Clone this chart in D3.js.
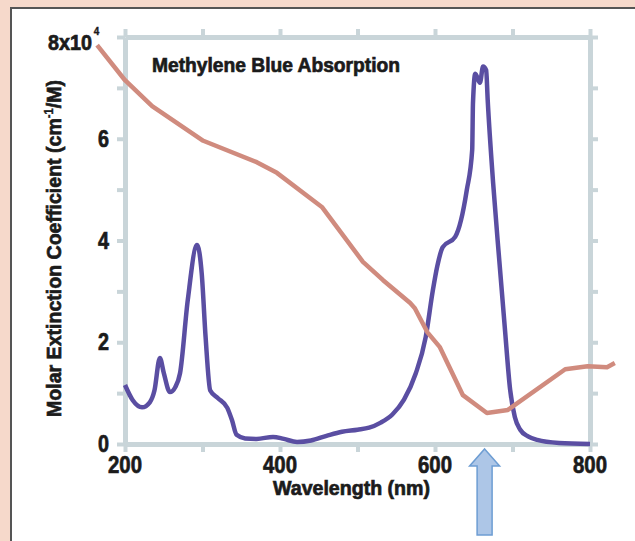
<!DOCTYPE html>
<html>
<head>
<meta charset="utf-8">
<script src="https://cdn.jsdelivr.net/npm/d3@7"></script>
<style>
  html, body { margin: 0; padding: 0; background: #f6d9cb; }
  svg { display: block; }
  .lbl { font-family: "Liberation Sans", Arial, sans-serif; font-weight: bold; fill: #1b1b1b; stroke: #1b1b1b; stroke-width: 0.7; }
</style>
</head>
<body>
<div id="chart"></div>
<script>
// wavelength (nm) and molar extinction coefficient (x10^4 cm^-1/M)
const mbWavelength = [200, 210, 222, 232, 238, 245, 250, 258, 265, 271, 281, 293, 299, 304, 310, 320, 332, 338, 344, 355, 370, 391, 405, 422, 440, 460, 480, 500, 515, 530, 545, 560, 575, 588, 597, 603, 610, 626, 641, 648, 649, 652, 658, 662, 666, 668, 675, 683, 690, 697, 703, 710, 720, 732, 760, 800];
const mbCoeff      = [1.16, 0.86, 0.72, 0.82, 1.05, 1.69, 1.40, 1.02, 1.12, 1.39, 2.83, 3.91, 3.35, 2.10, 1.05, 0.90, 0.71, 0.47, 0.18, 0.11, 0.10, 0.14, 0.10, 0.04, 0.07, 0.16, 0.24, 0.28, 0.32, 0.42, 0.58, 0.87, 1.38, 2.10, 3.00, 3.50, 3.87, 4.07, 4.99, 5.78, 6.70, 7.28, 7.10, 7.42, 7.35, 6.76, 5.13, 3.60, 2.30, 1.06, 0.53, 0.28, 0.15, 0.08, 0.02, 0.0];

const bgWavelength = [164, 200, 235, 301, 370, 396, 454, 507, 533, 568, 574, 590, 606, 636, 667, 694, 768, 797, 822, 832];
const bgCoeff      = [7.84, 7.15, 6.64, 5.96, 5.54, 5.33, 4.66, 3.58, 3.22, 2.77, 2.67, 2.20, 1.91, 0.96, 0.61, 0.67, 1.47, 1.53, 1.51, 1.59];

const xTicks = [200, 300, 400, 500, 600, 700, 800];
const xTickLabels = [200, 400, 600, 800];
const yTicks = [0, 1, 2, 3, 4, 5, 6, 7, 8];
const yTickLabels = [0, 2, 4, 6];
const arrowWavelength = 664;

const W = 635, H = 541;
const axisColor = "#c9d5d9";

const svg = d3.select("#chart").append("svg")
    .attr("width", W)
    .attr("height", H);

// white panel
svg.append("rect")
    .attr("x", 11).attr("y", 8)
    .attr("width", W).attr("height", H)
    .attr("fill", "#fff")
    .attr("stroke", "#555")
    .attr("stroke-width", 2);

let x = d3.scaleLinear().domain([200, 800]).range([125, 590]);
let y = d3.scaleLinear().domain([0, 8]).range([444, 37]);

function styleAxis(g) {
    g.select(".domain").attr("stroke", axisColor).attr("stroke-width", 5);
    g.selectAll(".tick line").attr("stroke", axisColor).attr("stroke-width", 4);
    g.selectAll(".tick text").remove();
}

svg.append("g").attr("transform", "translate(0," + y(0) + ")")
    .call(d3.axisBottom(x).tickValues(xTicks).tickSize(8).tickSizeOuter(0))
    .call(styleAxis);
svg.append("g").attr("transform", "translate(0," + y(8) + ")")
    .call(d3.axisTop(x).tickValues(xTicks).tickSize(8).tickSizeOuter(0))
    .call(styleAxis);
svg.append("g").attr("transform", "translate(" + x(200) + ",0)")
    .call(d3.axisLeft(y).tickValues(yTicks).tickSize(8).tickSizeOuter(0))
    .call(styleAxis);
svg.append("g").attr("transform", "translate(" + x(800) + ",0)")
    .call(d3.axisRight(y).tickValues(yTicks).tickSize(8).tickSizeOuter(0))
    .call(styleAxis);

// tick labels
svg.selectAll(".xlab")
    .data(xTickLabels)
    .enter().append("text")
    .attr("class", "lbl xlab")
    .attr("x", d => x(d))
    .attr("y", y(0) + 29)
    .attr("text-anchor", "middle")
    .attr("font-size", 24)
    .attr("textLength", 34)
    .attr("lengthAdjust", "spacingAndGlyphs")
    .text(d => d);

svg.selectAll(".ylab")
    .data(yTickLabels)
    .enter().append("text")
    .attr("class", "lbl ylab")
    .attr("x", x(200) - 16)
    .attr("y", d => y(d) + 8)
    .attr("text-anchor", "end")
    .attr("font-size", 23)
    .attr("textLength", 11)
    .attr("lengthAdjust", "spacingAndGlyphs")
    .text(d => d);

// top label 8x10^4, squeezed horizontally
let topLab = svg.append("text")
    .attr("class", "lbl")
    .attr("transform", "translate(48," + (y(8) + 13) + ") scale(0.9,1)")
    .attr("font-size", 22);
topLab.append("tspan").text("8x10");
topLab.append("tspan")
    .attr("dx", 2).attr("dy", -15)
    .attr("font-size", 11)
    .style("stroke-width", 0.4)
    .text("4");

// title
svg.append("text")
    .attr("class", "lbl")
    .attr("x", 152).attr("y", 72)
    .attr("font-size", 20)
    .attr("textLength", 248)
    .attr("lengthAdjust", "spacingAndGlyphs")
    .text("Methylene Blue Absorption");

// axis titles
svg.append("text")
    .attr("class", "lbl")
    .attr("x", 273).attr("y", 495)
    .attr("font-size", 20)
    .attr("textLength", 157)
    .attr("lengthAdjust", "spacingAndGlyphs")
    .text("Wavelength (nm)");

let yTitle = svg.append("text")
    .attr("class", "lbl")
    .attr("transform", "translate(61,417) rotate(-90)")
    .attr("font-size", 21)
    .attr("textLength", 337)
    .attr("lengthAdjust", "spacingAndGlyphs");
yTitle.append("tspan").text("Molar Extinction Coefficient (cm");
yTitle.append("tspan").attr("font-size", 12).attr("dy", -8).style("stroke-width", 0.4).text("-1");
yTitle.append("tspan").attr("dy", 8).text("/M)");

// curves
let lineMB = d3.line()
    .x((d, i) => x(mbWavelength[i]))
    .y(d => y(d))
    .curve(d3.curveMonotoneX);

let lineBG = d3.line()
    .x((d, i) => x(bgWavelength[i]))
    .y(d => y(d));

svg.append("path")
    .datum(mbCoeff)
    .attr("d", lineMB)
    .attr("fill", "none")
    .attr("stroke", "#5a4ea2")
    .attr("stroke-width", 4.5)
    .attr("stroke-linejoin", "round");

svg.append("path")
    .datum(bgCoeff)
    .attr("d", lineBG)
    .attr("fill", "none")
    .attr("stroke", "#d08b7e")
    .attr("stroke-width", 4.5)
    .attr("stroke-linejoin", "round");

// arrow marking the absorption peak
let ax = x(arrowWavelength), ay = y(0) + 5;
svg.append("path")
    .attr("d", d3.line()([
        [ax, ay], [ax + 15, ay + 17], [ax + 7.5, ay + 17], [ax + 7.5, ay + 86],
        [ax - 7.5, ay + 86], [ax - 7.5, ay + 17], [ax - 15, ay + 17]
    ]) + "Z")
    .attr("fill", "#adc6e7")
    .attr("stroke", "#6d9dd3")
    .attr("stroke-width", 1.5);
</script>
</body>
</html>
